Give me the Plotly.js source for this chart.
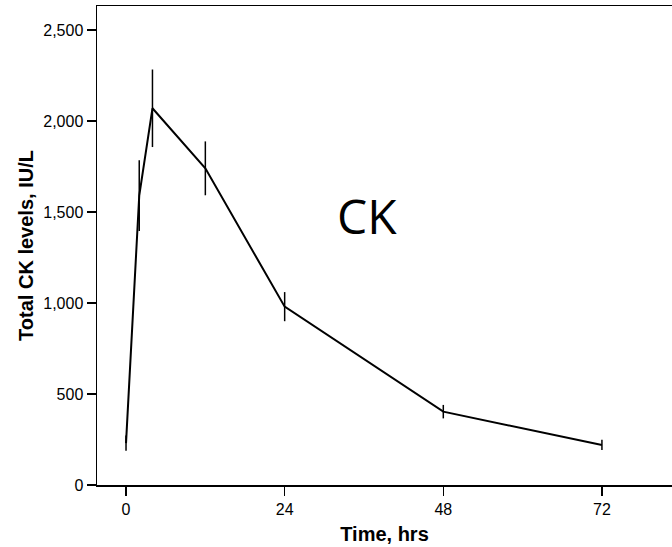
<!DOCTYPE html>
<html>
<head>
<meta charset="utf-8">
<script src="https://cdn.plot.ly/plotly-3.0.1.min.js"></script>
<style>
  html, body { margin: 0; padding: 0; background: #fff; }
  #chart { width: 672px; height: 547px; }
</style>
</head>
<body>
<div id="chart"></div>
<script>
// Sampling times after onset (hours)
const timeHrs = [0, 2, 4, 12, 24, 48, 72];
// Mean total CK (IU/L) and the half-length of each error bar
const ckMean = [230, 1590, 2070, 1740, 980, 403, 220];
const ckErr = [42, 195, 213, 148, 80, 37, 28];

const xTicks = [0, 24, 48, 72];
const yTicks = [0, 500, 1000, 1500, 2000, 2500];

const trace = {
  x: timeHrs,
  y: ckMean,
  type: 'scatter',
  mode: 'lines',
  line: { color: '#000', width: 2 },
  error_y: {
    type: 'data',
    array: ckErr,
    visible: true,
    color: '#000',
    thickness: 1.5,
    width: 0
  },
  hoverinfo: 'x+y'
};

const axisFont = { family: 'Liberation Sans, Arial, sans-serif', size: 16, color: '#000' };
const titleFont = { family: 'Liberation Sans, Arial, sans-serif', size: 20, color: '#000', weight: 'bold' };

const layout = {
  width: 672,
  height: 547,
  margin: { l: 97, r: 0, t: 6, b: 62 },
  paper_bgcolor: '#fff',
  plot_bgcolor: '#fff',
  showlegend: false,
  xaxis: {
    range: [-4.39, 82.6],
    tickvals: xTicks,
    ticktext: xTicks.map(String),
    ticks: 'outside',
    ticklen: 9,
    tickwidth: 1.5,
    tickcolor: '#000',
    showline: true,
    linecolor: '#000',
    linewidth: 1.5,
    mirror: true,
    showgrid: false,
    zeroline: false,
    tickfont: axisFont,
    title: { text: 'Time, hrs', font: titleFont, standoff: 10 }
  },
  yaxis: {
    range: [0, 2632],
    tickvals: yTicks,
    tickformat: ',',
    ticks: 'outside',
    ticklen: 9,
    tickwidth: 1.5,
    tickcolor: '#000',
    showline: true,
    linecolor: '#000',
    linewidth: 1.5,
    mirror: false,
    showgrid: false,
    zeroline: false,
    tickfont: axisFont,
    title: { text: 'Total CK levels, IU/L', font: titleFont, standoff: 4 }
  },
  annotations: [{
    x: 36.5,
    y: 1483,
    xref: 'x',
    yref: 'y',
    text: 'CK',
    showarrow: false,
    font: { family: 'Open Sans, Noto Sans, sans-serif', size: 48, color: '#000' }
  }]
};

Plotly.newPlot('chart', [trace], layout, { displayModeBar: false, staticPlot: true });
</script>
</body>
</html>
